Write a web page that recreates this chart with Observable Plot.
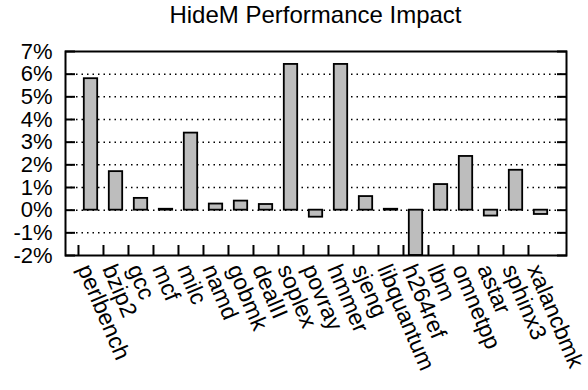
<!DOCTYPE html>
<html><head><meta charset="utf-8">
<script src="https://cdn.jsdelivr.net/npm/d3@7"></script>
<script src="https://cdn.jsdelivr.net/npm/@observablehq/plot@0.6"></script>
<style>
body{margin:0;background:#fff;font-family:"Liberation Sans",Arial,Helvetica,sans-serif;}
#wrap{position:relative;width:588px;height:390px;}
#title{position:absolute;left:65px;width:501px;top:1px;text-align:center;font-size:24px;line-height:27px;color:#000;}
#chart{position:absolute;left:0;top:40px;}
</style></head>
<body><div id="wrap"><div id="title">HideM Performance Impact</div><div id="chart"></div></div>
<script>
const benchmarks = ["perlbench","bzip2","gcc","mcf","milc","namd","gobmk","dealII","soplex","povray","hmmer","sjeng","libquantum","h264ref","lbm","omnetpp","astar","sphinx3","xalancbmk"];
const impact = [5.8, 1.7, 0.52, 0.04, 3.4, 0.27, 0.4, 0.25, 6.43, -0.31, 6.43, 0.6, 0.04, -2.0, 1.13, 2.37, -0.26, 1.76, -0.19];
const yTicks = [-2, -1, 0, 1, 2, 3, 4, 5, 6, 7];
const gridTicks = [-1, 0, 1, 2, 3, 4, 5, 6];

const data = benchmarks.map((b, i) => ({name: b, value: impact[i]}));
const bw = 25.05;
const x0 = 77.5;
const yFont = 22;
const xFont = 23;

const chart = Plot.plot({
  width: 588,
  height: 350,
  marginLeft: 65,
  marginRight: 22,
  marginTop: 11,
  marginBottom: 135,
  style: {fontFamily: '"Liberation Sans", Arial, sans-serif', fontSize: yFont + "px", color: "#000", background: "#fff", overflow: "visible"},
  x: {type: "band", domain: benchmarks, range: [x0, x0 + bw * benchmarks.length], padding: 0, axis: null},
  y: {domain: [-2, 7], axis: null},
  marks: [
    Plot.gridY(gridTicks, {stroke: "#000", strokeOpacity: 1, strokeWidth: 1.5, strokeDasharray: "1.5,4"}),
    Plot.barY(data, {x: "name", y: "value", fill: "#bdbdbd", stroke: "#000", strokeWidth: 1.8, insetLeft: 5.8, insetRight: 5.8}),
    Plot.axisY(yTicks, {anchor: "left", tickSize: -10, tickPadding: 23, strokeWidth: 2, tickFormat: d => d + "%", fontSize: yFont, label: null}),
    Plot.axisY(yTicks, {anchor: "right", tickSize: -10, strokeWidth: 2, tickFormat: () => "", label: null}),
    Plot.axisX(benchmarks, {anchor: "bottom", tickSize: -10, strokeWidth: 2, dx: -bw / 2, tickFormat: () => "", label: null}),
    Plot.text(data, {x: "name", text: "name", frameAnchor: "bottom", rotate: 67, textAnchor: "start", lineAnchor: "bottom", dx: -14, dy: 13, fontSize: xFont, fill: "#000"}),
    Plot.frame({stroke: "#000", strokeWidth: 2})
  ]
});
document.getElementById("chart").appendChild(chart);
</script></body></html>
